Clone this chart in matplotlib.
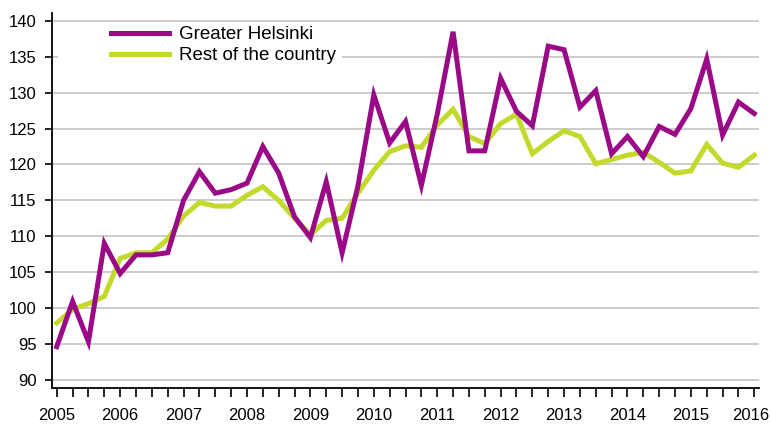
import matplotlib
matplotlib.use("Agg")
import matplotlib.pyplot as plt
from matplotlib.patches import Rectangle
import numpy as np

plt.rcParams['font.family'] = ['Liberation Sans', 'DejaVu Sans']

years = list(range(2005, 2017))
helsinki = [94.6, 100.9, 95.3, 109.0, 104.8, 107.4, 107.4, 107.7,
            115.0, 119.0, 116.0, 116.5, 117.4, 122.5, 118.8, 112.7,
            109.8, 117.6, 107.7, 117.0, 129.7, 123.0, 126.0, 117.1,
            127.0, 138.5, 121.9, 121.9, 132.0, 127.4, 125.4, 136.5,
            136.0, 128.0, 130.3, 121.5, 123.9, 121.1, 125.3, 124.2,
            127.8, 134.7, 124.1, 128.7, 127.1]
rest = [97.9, 99.8, 100.6, 101.6, 106.9, 107.7, 107.7, 109.6,
        112.8, 114.7, 114.2, 114.2, 115.7, 116.9, 115.0, 112.5,
        110.2, 112.2, 112.5, 116.0, 119.2, 121.8, 122.6, 122.4,
        125.5, 127.7, 123.9, 122.9, 125.7, 127.0, 121.5, 123.2,
        124.7, 123.9, 120.1, 120.7, 121.3, 121.7, 120.3, 118.8,
        119.1, 122.8, 120.2, 119.6, 121.3]
labels = ["Greater Helsinki", "Rest of the country"]
colors = ["#9B0A86", "#C3D92B"]

x = np.arange(len(helsinki))

fig = plt.figure(figsize=(7.71, 4.24), dpi=100)
ax = fig.add_axes([0.067, 0.0849, 0.9175, 0.8841])

ax.plot(x, helsinki, color=colors[0], lw=3.6, label=labels[0], zorder=4,
        solid_joinstyle='miter')
ax.plot(x, rest, color=colors[1], lw=3.6, label=labels[1], zorder=3,
        solid_joinstyle='miter')

ax.set_xlim(-0.32, 44.3)
ax.set_ylim(88.84, 141.1)
ax.set_yticks(np.arange(90, 141, 5))
ax.grid(axis='y', color='#C8C8C8', lw=1.3, zorder=0)
ax.set_axisbelow(True)

major = np.arange(0, len(helsinki), 4)
ax.set_xticks(major)
ticklabels = [str(y) for y in years]
ax.set_xticklabels(ticklabels[:-1] + [''])
ax.set_xticks(x, minor=True)
tick_len = 6.5
tick_pad = 8
ax.tick_params(axis='x', which='both', direction='out', length=tick_len,
               width=1.2, labelsize=12, pad=tick_pad, colors='black')
ax.tick_params(axis='y', direction='out', length=5, width=1.2,
               labelsize=12, pad=6)
# last year label nudged left so it stays inside the image
ax.annotate(ticklabels[-1], xy=(major[-1], 0),
            xycoords=('data', 'axes fraction'),
            xytext=(-2.4, -(tick_len + tick_pad)), textcoords='offset points',
            ha='center', va='top', fontsize=12)

for s in ['top', 'right']:
    ax.spines[s].set_visible(False)
for s in ['left', 'bottom']:
    ax.spines[s].set_linewidth(1.3)

# white background behind legend
ax.add_patch(Rectangle((0.009, 0.859), 0.401, 0.112, transform=ax.transAxes,
                       facecolor='white', edgecolor='none', zorder=1))
ax.legend(loc='upper left', bbox_to_anchor=(111 / 771, 0.938),
          bbox_transform=fig.transFigure, frameon=False,
          fontsize=13.5, handlelength=3.1, handletextpad=0.53,
          labelspacing=0.2, borderpad=0, borderaxespad=0)

fig.savefig("out.png", dpi=100)
